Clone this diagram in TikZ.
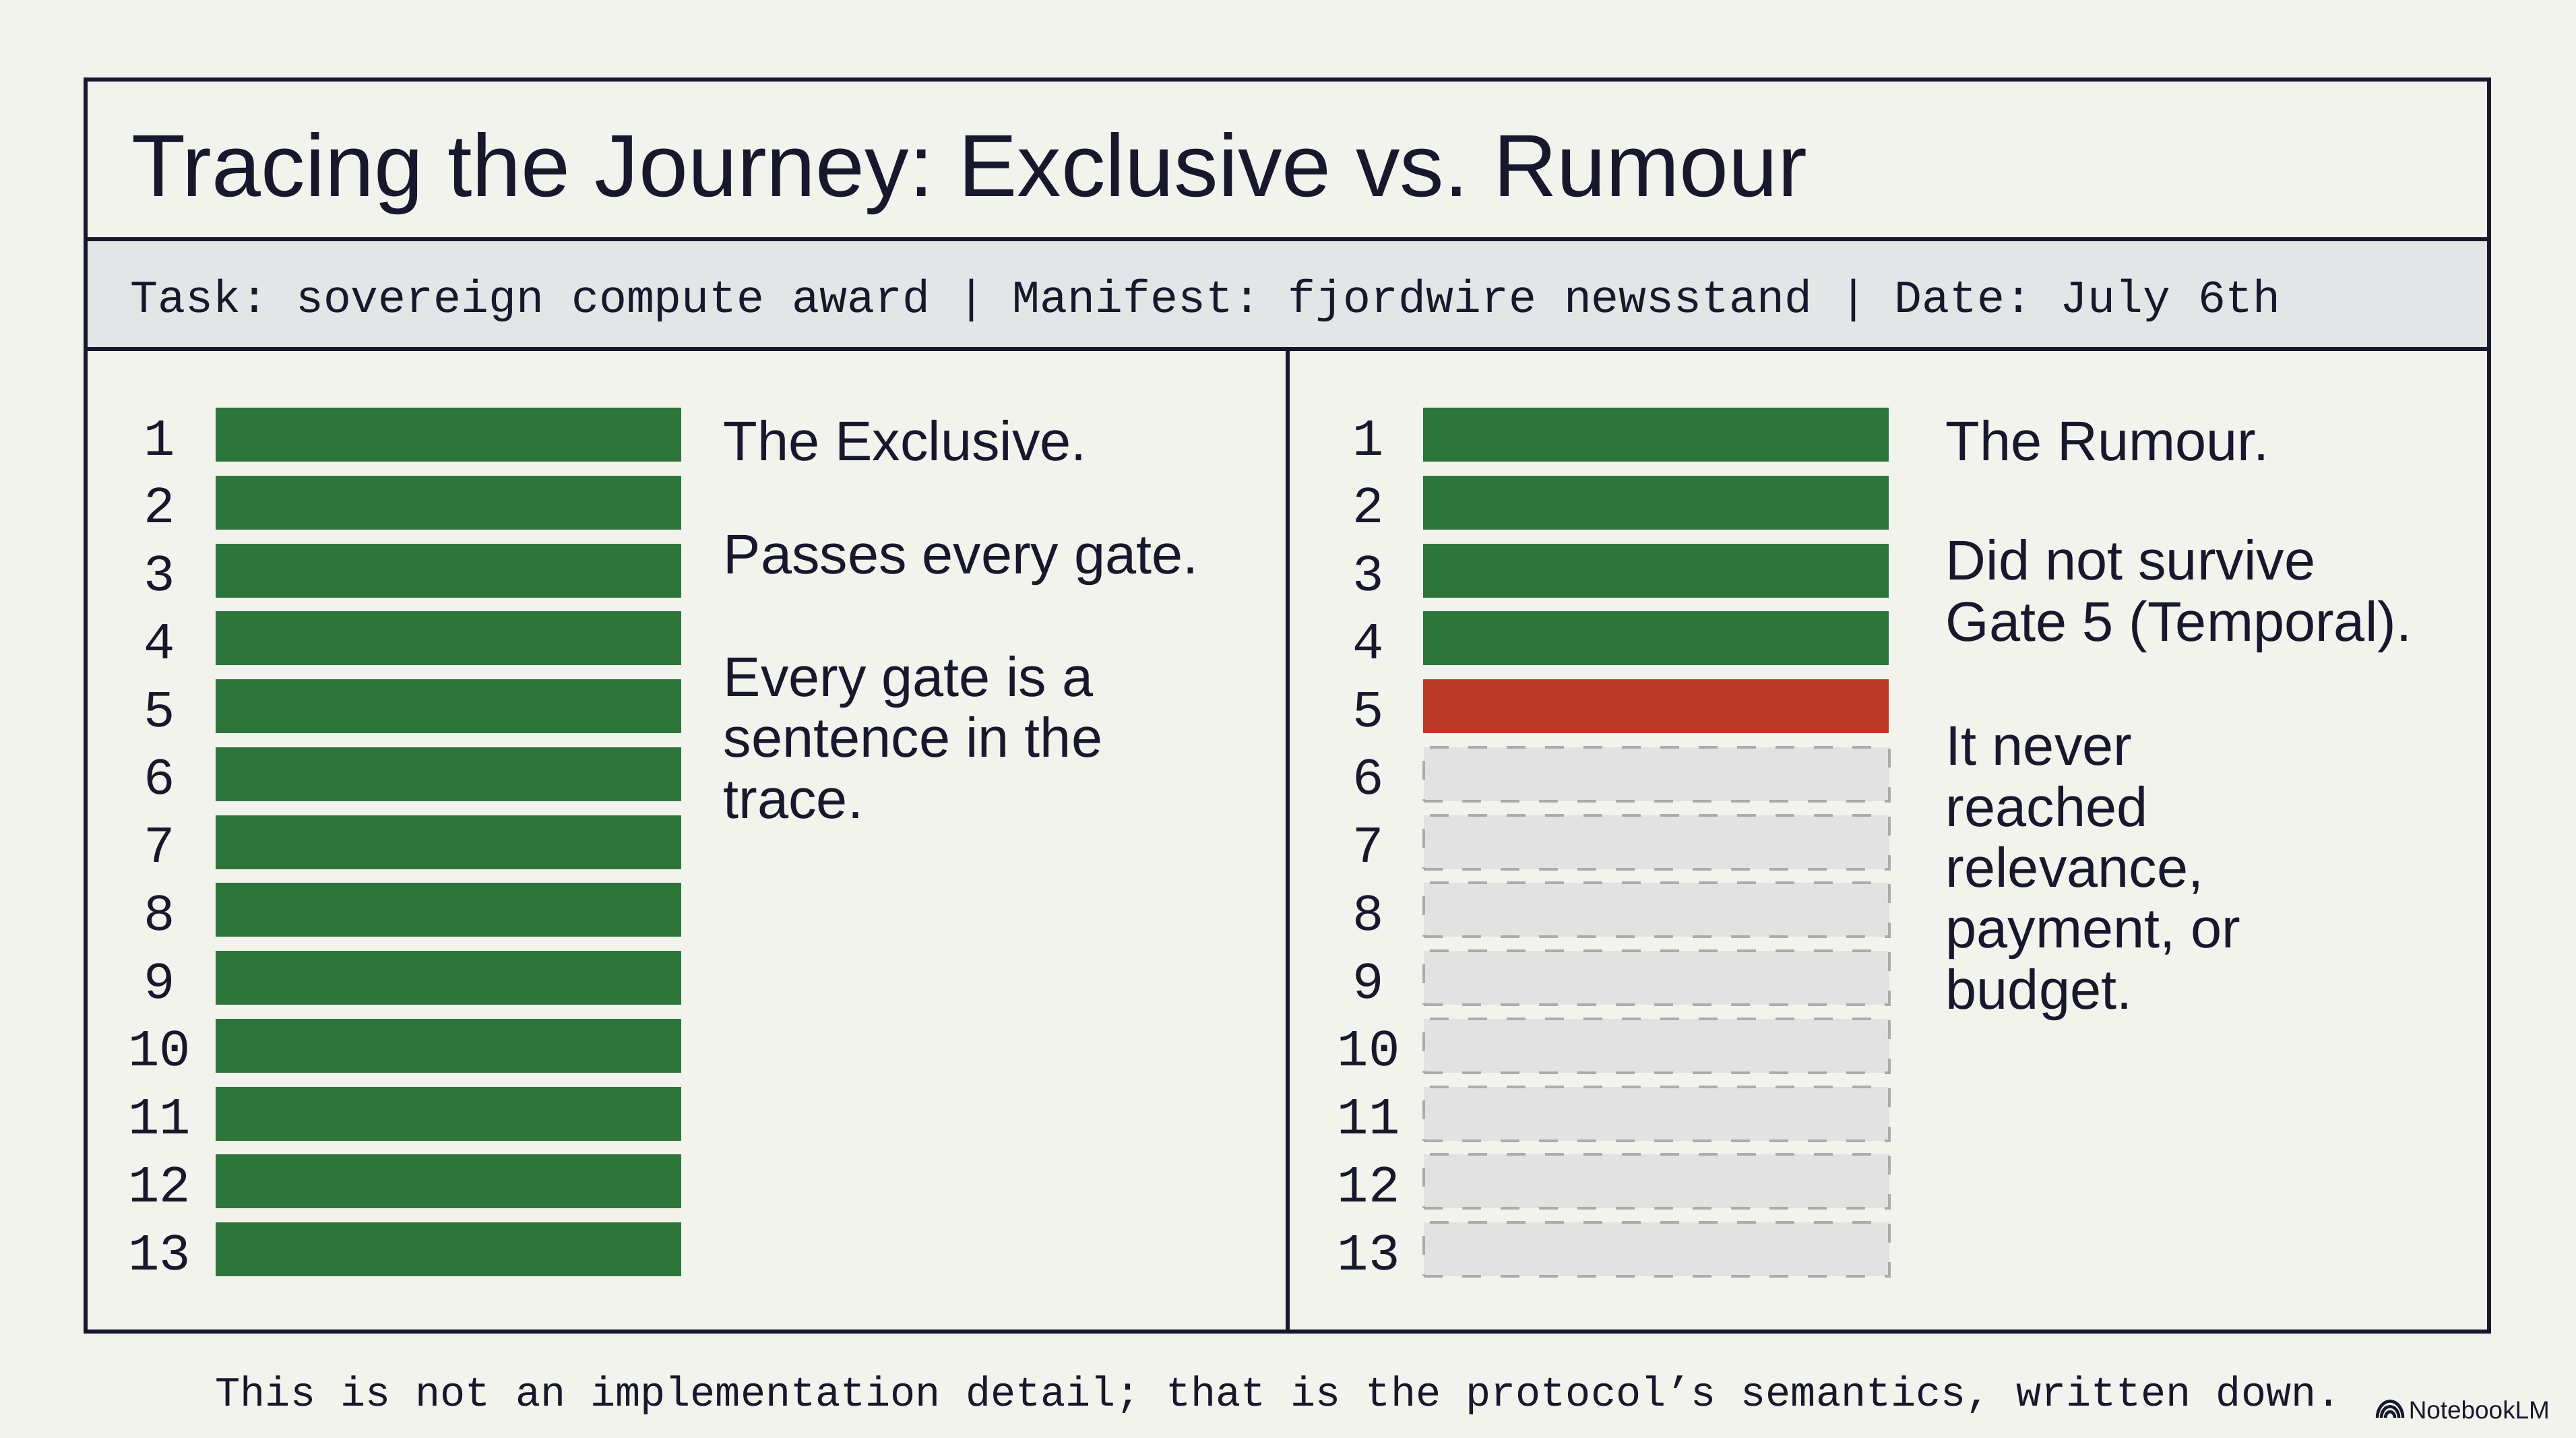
\documentclass[tikz,border=0pt]{standalone}
\usepackage{fontspec}
\setmainfont{Liberation Sans}
\setmonofont{Liberation Mono}
\frenchspacing

\definecolor{paper}{RGB}{243,243,238}
\definecolor{ink}{RGB}{24,24,44}
\definecolor{band}{RGB}{228,229,230}
\definecolor{passgreen}{RGB}{46,117,58}
\definecolor{failred}{RGB}{185,58,38}
\definecolor{ghostfill}{RGB}{226,226,226}
\definecolor{ghostline}{RGB}{172,172,172}

\begin{document}
\begin{tikzpicture}[
    frame/.style={draw=ink, line width=0.55mm},
    gatebar/.style={minimum width=6.91cm, minimum height=0.80cm, inner sep=0pt, anchor=west},
    passbar/.style={gatebar, fill=passgreen},
    failbar/.style={gatebar, fill=failred},
    ghostbar/.style={gatebar, fill=ghostfill, draw=ghostline, line width=0.4mm, dash pattern=on 2.8mm off 2.9mm},
    gatenum/.style={font=\fontsize{22}{22}\ttfamily, text=ink, anchor=base, inner sep=0pt},
    remark/.style={font=\fontsize{23.6}{25.7}\selectfont, text=ink, align=left, anchor=base west, inner sep=0pt},
  ]
  \useasboundingbox (0,0) rectangle (38.23,-21.34);
  \fill[paper] (0,0) rectangle (38.23,-21.34);
  \fill[band] (1.27,-3.55) rectangle (36.94,-5.18);
  \draw[frame] (1.27,-1.18) rectangle (36.94,-19.76);
  \draw[frame] (1.27,-3.55) -- (36.94,-3.55);
  \draw[frame] (1.27,-5.18) -- (36.94,-5.18);
  \draw[frame] (19.11,-5.18) -- (19.11,-19.76);

  \node[anchor=base west, inner sep=0pt, text=ink, font=\fontsize{37.3}{40}\selectfont] (title) at (1.95,-2.92)
    {Tracing the Journey: Exclusive vs. Rumour};
  \node[anchor=base west, inner sep=0pt, text=ink, font=\fontsize{19.4}{20}\ttfamily] (task) at (1.93,-4.64)
    {Task: sovereign compute award | Manifest: fjordwire newsstand | Date: July 6th};

  \foreach \i in {1,...,13}{
    \pgfmathsetmacro\y{-6.45-(\i-1)*1.0075}
    \node[gatenum] (ln\i) at (2.37,{\y-0.30}) {\i};
    \node[passbar] (lb\i) at (3.19,\y) {};
    \node[gatenum] (rn\i) at (20.31,{\y-0.30}) {\i};
  }
  \foreach \i in {1,...,4}
    \node[passbar] (rb\i) at (21.11,{-6.45-(\i-1)*1.0075}) {};
  \node[failbar] (rb5) at (21.11,{-6.45-4*1.0075}) {};
  \foreach \i in {6,...,13}
    \node[ghostbar] (rb\i) at (21.11,{-6.45-(\i-1)*1.0075}) {};

  \node[remark] (exclusive) at (10.73,-6.83) {The Exclusive.};
  \node[remark] (passes) at (10.73,-8.51) {Passes every gate.};
  \node[remark] (sentence) at (10.73,-12.14) {Every gate is a\\sentence in the\\trace.};
  \node[remark] (rumour) at (28.87,-6.83) {The Rumour.};
  \node[remark] (survive) at (28.87,-9.51) {Did not survive\\Gate 5 (Temporal).};
  \node[remark] (never) at (28.87,-14.97) {It never\\reached\\relevance,\\payment, or\\budget.};

  \node[anchor=base west, inner sep=0pt, text=ink, font=\fontsize{17.6}{18}\ttfamily] (moral) at (3.19,-20.86)
    {This is not an implementation detail; that is the protocol’s semantics, written down.};

  \foreach \r in {0.07,0.13,0.19}
    \draw[ink, line width=0.45mm] (35.47,-21.04) ++(180:\r) arc[start angle=180, end angle=0, x radius=\r, y radius=1.3*\r];
  \node[anchor=base west, inner sep=0pt, text=ink, font=\fontsize{10.5}{12}\selectfont] (brand) at (35.74,-21.05) {NotebookLM};
\end{tikzpicture}
\end{document}
